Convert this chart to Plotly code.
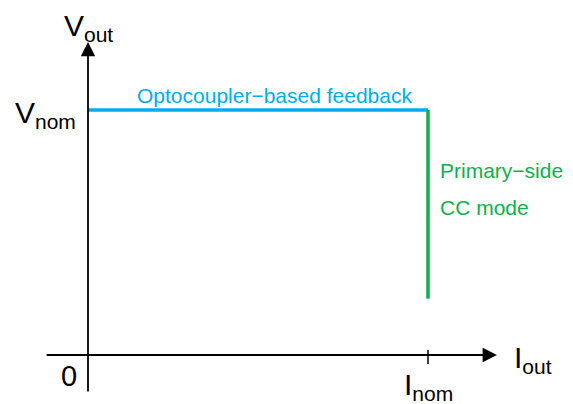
import plotly.graph_objects as go

# ---- data (normalised units: I_nom = 1, V_nom = 1) ----
cv_current = [0.0, 1.0]          # optocoupler regulated region (CV)
cv_voltage = [1.0, 1.0]
cc_current = [1.0, 1.0]          # primary-side CC region
cc_voltage = [1.0, 0.23]
x_axis_span = [-0.126, 1.203]    # drawn x-axis extent
y_axis_span = [-0.155, 1.278]    # drawn y-axis extent
tick_x = [1.0]
tick_labels = ["I<sub>nom</sub>"]

BLUE = "#00AEEF"
GREEN = "#0DB14B"
FONT = "Liberation Sans, Arial, Helvetica, sans-serif"

px_x = 1 / 340.0
px_y = 1 / 245.0
PAGE_MARGIN = 8  # default body margin of the page

fig = go.Figure()

# axes lines with arrows
fig.add_annotation(x=x_axis_span[1], y=0, ax=x_axis_span[0], ay=0,
                   xref="x", yref="y", axref="x", ayref="y", text="",
                   showarrow=True, arrowhead=2, arrowsize=1.6, arrowwidth=1.8,
                   arrowcolor="black", standoff=0)
fig.add_annotation(x=0, y=y_axis_span[1], ax=0, ay=y_axis_span[0],
                   xref="x", yref="y", axref="x", ayref="y", text="",
                   showarrow=True, arrowhead=2, arrowsize=1.6, arrowwidth=1.8,
                   arrowcolor="black", standoff=0)

# tick mark at I_nom
for tx in tick_x:
    fig.add_trace(go.Scatter(x=[tx, tx], y=[5 * px_y, -9 * px_y], mode="lines",
                             line=dict(color="black", width=1.5),
                             hoverinfo="skip", showlegend=False))

# characteristic curves
fig.add_trace(go.Scatter(x=cv_current, y=cv_voltage, mode="lines",
                         line=dict(color=BLUE, width=3.5),
                         showlegend=False))
fig.add_trace(go.Scatter(x=cc_current, y=cc_voltage, mode="lines",
                         line=dict(color=GREEN, width=3.5),
                         showlegend=False))

big = dict(family=FONT, size=30, color="black")
mid = dict(family=FONT, size=21)

# axis titles / labels
fig.add_annotation(x=0, y=1, yref="paper", text="V<sub>out</sub>",
                   showarrow=False, xanchor="center", yanchor="top",
                   borderpad=0, font=big)
fig.add_annotation(x=x_axis_span[1] + 15 * px_x, y=0 - 4 * px_y, text="I<sub>out</sub>",
                   showarrow=False, xanchor="left", yanchor="middle", font=big)
fig.add_annotation(x=-10 * px_x, y=cv_voltage[0] - 4 * px_y, text="V<sub>nom</sub>",
                   showarrow=False, xanchor="right", yanchor="middle", font=big)
fig.add_annotation(x=-9 * px_x, y=-3 * px_y, text="0",
                   showarrow=False, xanchor="right", yanchor="top",
                   font=dict(family=FONT, size=29, color="black"))
for tx, tl in zip(tick_x, tick_labels):
    fig.add_annotation(x=tx, y=-11 * px_y, text=tl, showarrow=False,
                       xanchor="center", yanchor="top", font=big)

# curve labels
fig.add_annotation(x=cv_current[0] + 47 * px_x, y=cv_voltage[0] + 1 * px_y,
                   text="Optocoupler\u2212based feedback", showarrow=False,
                   xanchor="left", yanchor="bottom", font=dict(mid, color=BLUE))
fig.add_annotation(x=cc_current[0] + 10 * px_x, y=cc_voltage[0] - 60 * px_y,
                   text="Primary\u2212side", showarrow=False,
                   xanchor="left", yanchor="middle", font=dict(mid, color=GREEN))
fig.add_annotation(x=cc_current[0] + 10 * px_x, y=cc_voltage[0] - 97 * px_y,
                   text="CC mode", showarrow=False,
                   xanchor="left", yanchor="middle", font=dict(mid, color=GREEN))

W, H = 573 - PAGE_MARGIN, 404 - PAGE_MARGIN
fig.update_layout(
    width=W, height=H,
    margin=dict(l=0, r=0, t=0, b=0),
    paper_bgcolor="white", plot_bgcolor="white",
    xaxis=dict(range=[-(88 - PAGE_MARGIN) * px_x, 485 * px_x], visible=False, fixedrange=True),
    yaxis=dict(range=[-49 * px_y, (355 - PAGE_MARGIN) * px_y], visible=False, fixedrange=True),
    showlegend=False,
)

fig.write_html("out.html")
